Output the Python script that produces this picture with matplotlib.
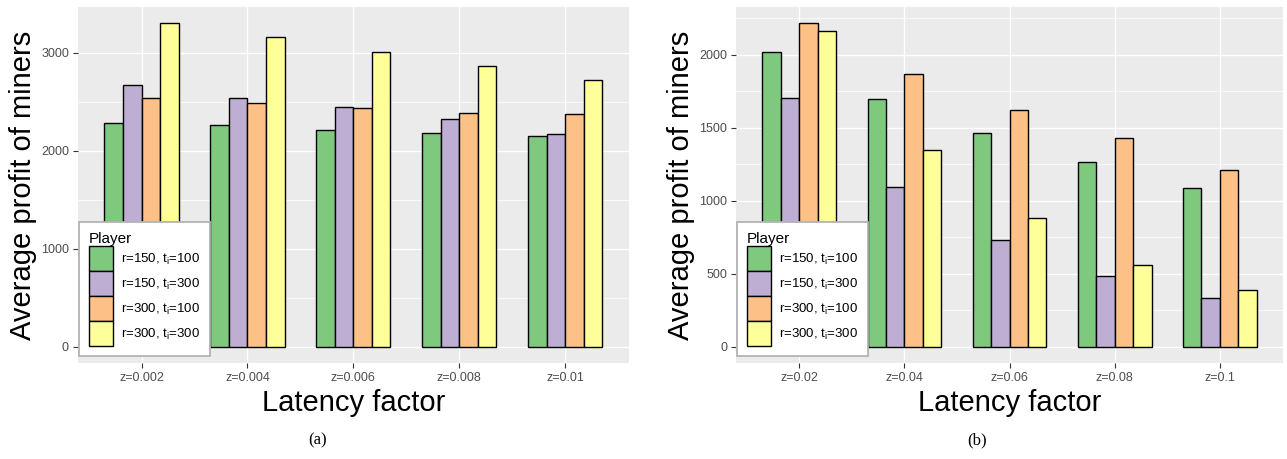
import numpy as np
import matplotlib
matplotlib.use('Agg')
import matplotlib.pyplot as plt
from matplotlib.patches import Patch
from matplotlib.ticker import MultipleLocator

plt.rcParams['font.family'] = ['Liberation Sans', 'DejaVu Sans']
plt.rcParams['mathtext.fontset'] = 'custom'
plt.rcParams['mathtext.rm'] = 'Liberation Sans'

# Средняя прибыль майнеров, (a) и (b)
players = ['r=150, t$_\\mathregular{i}$=100', 'r=150, t$_\\mathregular{i}$=300',
           'r=300, t$_\\mathregular{i}$=100', 'r=300, t$_\\mathregular{i}$=300']
colors = ['#7FC97F', '#BEAED4', '#FDC086', '#FFFF99']

z_a = ['z=0.002', 'z=0.004', 'z=0.006', 'z=0.008', 'z=0.01']
profit_a = [
    [2283, 2266, 2211, 2177, 2150],   # r=150, ti=100
    [2671, 2538, 2443, 2320, 2167],   # r=150, ti=300
    [2535, 2487, 2440, 2382, 2371],   # r=300, ti=100
    [3302, 3155, 3009, 2869, 2719],   # r=300, ti=300
]

z_b = ['z=0.02', 'z=0.04', 'z=0.06', 'z=0.08', 'z=0.1']
profit_b = [
    [2016, 1700, 1465, 1263, 1087],
    [1707, 1098, 730, 487, 332],
    [2217, 1870, 1625, 1430, 1208],
    [2160, 1350, 879, 558, 389],
]


def draw_panel(ax, cats, values, major, ylab_x):
    values = np.array(values)
    n = len(players)
    group = 0.7
    w = group / n
    x = np.arange(1, len(cats) + 1)
    for k in range(n):
        ax.bar(x - group / 2 + w * (k + 0.5), values[k], width=w,
               color=colors[k], edgecolor='black', linewidth=1.0, zorder=3)

    top = values.max()
    ax.set_xlim(0.4, len(cats) + 0.6)
    ax.set_ylim(-0.05 * top, 1.05 * top)
    ax.set_xticks(x)
    ax.set_xticklabels(cats)
    ax.yaxis.set_major_locator(MultipleLocator(major))
    ax.yaxis.set_minor_locator(MultipleLocator(major / 2))

    ax.set_facecolor('#EBEBEB')
    for s in ax.spines.values():
        s.set_visible(False)
    ax.grid(which='major', color='white', linewidth=1.0, zorder=0)
    ax.grid(which='minor', axis='y', color='white', linewidth=0.5, zorder=0)
    ax.set_axisbelow(True)
    ax.tick_params(which='major', length=3.5, width=0.8, color='#333333',
                   labelcolor='#4D4D4D', labelsize=9, pad=3)
    ax.tick_params(which='minor', length=0)

    ax.set_xlabel('Latency factor', fontsize=21)
    ax.set_ylabel('Average profit of miners', fontsize=21)
    ax.xaxis.set_label_coords(0.5, -0.072)
    ax.yaxis.set_label_coords(ylab_x, 0.5)

    handles = [Patch(facecolor=colors[k], edgecolor='black', linewidth=1.0)
               for k in range(n)]
    leg = ax.legend(handles, players, title='Player', loc='lower left',
                    bbox_to_anchor=(0.002, 0.02), fontsize=9.5,
                    title_fontsize=11, alignment='left', fancybox=False,
                    framealpha=1, edgecolor='#B3B3B3', labelspacing=0.0,
                    handlelength=1.82, handleheight=2.54, handletextpad=0.6,
                    borderpad=0.75, borderaxespad=0)
    leg.get_frame().set_linewidth(1.3)
    leg.set_zorder(5)


fig = plt.figure(figsize=(12.87, 4.59), dpi=100)
ax1 = fig.add_axes([0.0606, 0.209, 0.428, 0.776])
ax2 = fig.add_axes([0.5719, 0.209, 0.425, 0.776])

draw_panel(ax1, z_a, profit_a, 1000, -0.075)
draw_panel(ax2, z_b, profit_b, 500, -0.075)

fig.text(318 / 1287, 1 - 440 / 459, '(a)', ha='center', va='center',
         fontsize=12, family='Liberation Serif')
fig.text(977 / 1287, 1 - 440 / 459, '(b)', ha='center', va='center',
         fontsize=12, family='Liberation Serif')

fig.savefig('out.png', dpi=100, facecolor='white')
